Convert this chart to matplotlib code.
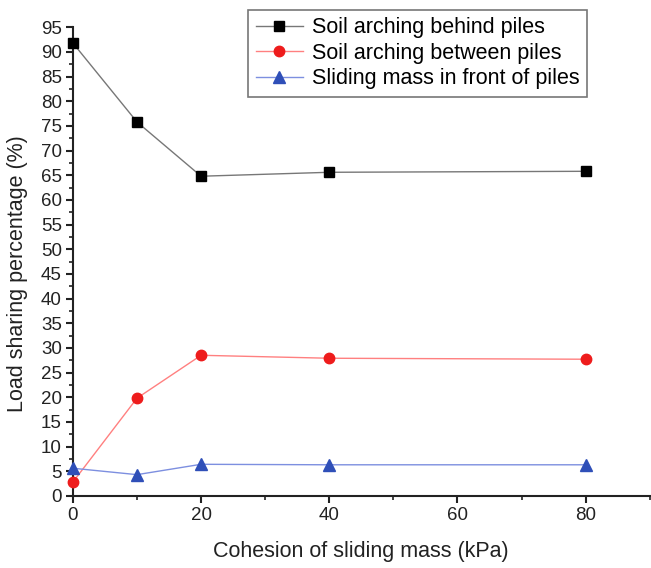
import matplotlib
matplotlib.use("Agg")
import matplotlib.pyplot as plt
from matplotlib.ticker import MultipleLocator

plt.rcParams["font.family"] = ["Liberation Sans", "DejaVu Sans"]

# data
cohesion = [0, 10, 20, 40, 80]
behind = [91.8, 75.8, 64.8, 65.6, 65.8]
between = [2.8, 19.8, 28.5, 27.9, 27.7]
front = [5.6, 4.3, 6.4, 6.3, 6.3]
labels = ["Soil arching behind piles",
          "Soil arching between piles",
          "Sliding mass in front of piles"]

fig = plt.figure(figsize=(6.51, 5.68), dpi=100)
ax = fig.add_axes([0.112, 0.127, 0.886, 0.825])

ax.plot(cohesion, behind, color="#777777", lw=1.0, marker="s", ms=7,
        mfc="black", mec="black", label=labels[0], clip_on=False, zorder=3)
ax.plot(cohesion, between, color="#ff8080", lw=1.0, marker="o", ms=7.5,
        mfc="#ee1c1c", mec="#ee1c1c", label=labels[1], clip_on=False, zorder=3)
ax.plot(cohesion, front, color="#7d8fe0", lw=1.0, marker="^", ms=8,
        mfc="#2f4fb8", mec="#2f4fb8", label=labels[2], clip_on=False, zorder=3)

ax.set_xlim(0, 90)
ax.set_ylim(0, 95)
ax.xaxis.set_major_locator(MultipleLocator(20))
ax.xaxis.set_minor_locator(MultipleLocator(10))
ax.yaxis.set_major_locator(MultipleLocator(5))
ax.yaxis.set_minor_locator(MultipleLocator(2.5))

for s in ["top", "right"]:
    ax.spines[s].set_visible(False)
for s in ["left", "bottom"]:
    ax.spines[s].set_linewidth(1.5)
    ax.spines[s].set_color("#222222")

ax.tick_params(which="major", direction="out", length=5, width=1.5,
               labelsize=13.5, colors="#222222", pad=3)
ax.tick_params(which="minor", direction="out", length=3, width=1.2,
               colors="#222222")

ax.set_xlabel("Cohesion of sliding mass (kPa)", fontsize=15.5, labelpad=12,
              color="#222222")
ax.set_ylabel("Load sharing percentage (%)", fontsize=15.5, color="#222222")
ax.yaxis.set_label_coords(-0.078, 0.474)

leg = ax.legend(loc="upper left", bbox_to_anchor=(0.3036, 1.037), fontsize=15.5,
                frameon=True, fancybox=False, borderpad=0.35,
                labelspacing=0.2, handlelength=2.2, handletextpad=0.4,
                borderaxespad=0)
leg.get_frame().set_edgecolor("#555555")
leg.get_frame().set_linewidth(1.2)

fig.savefig("out.png", dpi=100)
